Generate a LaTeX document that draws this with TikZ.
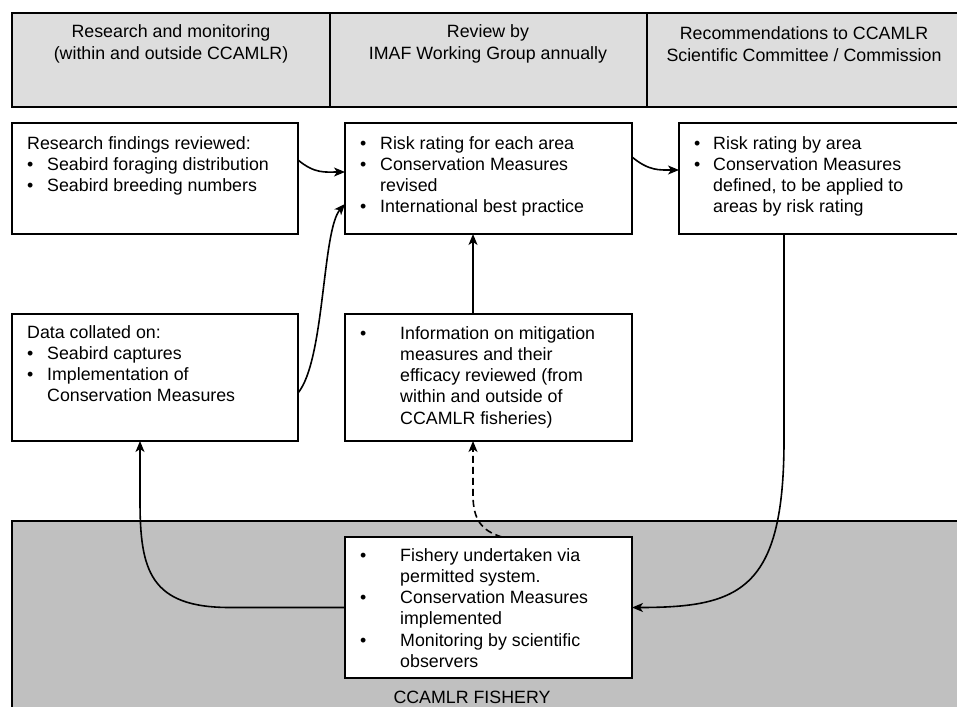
\documentclass[tikz,border=0pt]{standalone}
\usepackage{fontspec}
\setmainfont{Liberation Sans}
\usetikzlibrary{arrows.meta}
\definecolor{hdr}{RGB}{221,221,221}
\definecolor{fish}{RGB}{192,192,192}
\newcommand\bl{\textbullet}
\begin{document}
\begin{tikzpicture}[x=1pt,y=-1pt,
  font=\fontsize{17.8}{21.3}\selectfont,
  hdrbox/.style={draw, line width=1.8pt, fill=hdr, inner sep=0pt, outer sep=0pt, anchor=north west},
  fishbox/.style={draw, line width=1.8pt, fill=fish, inner sep=0pt, outer sep=0pt, anchor=north west},
  box/.style={draw, line width=1.8pt, fill=white, inner sep=0pt, outer sep=0pt, anchor=north west},
  txt/.style={anchor=base west, inner sep=0pt, align=left},
  hdrtxt/.style={inner sep=0pt, align=center},
  arr/.style={line width=1.6pt, -{Stealth[length=11pt,width=9pt,inset=3pt]}},
  dsh/.style={dash pattern=on 7pt off 4pt}]
\clip (0,0) rectangle (957,706);
\fill[white] (0,0) rectangle (957,706);
% header
\node[hdrbox, minimum width=318pt, minimum height=94pt] (h1) at (12,13) {};
\node[hdrbox, minimum width=317pt, minimum height=94pt] (h2) at (330,13) {};
\node[hdrbox, minimum width=343pt, minimum height=94pt] (h3) at (647,13) {};
\node[hdrtxt] (ht1) at (171,44) {Research and monitoring\\(within and outside CCAMLR)};
\node[hdrtxt] (ht2) at (488,44) {Review by\\IMAF Working Group annually};
\node[hdrtxt] (ht3) at (804,44) {Recommendations to CCAMLR\\Scientific Committee / Commission};
% fishery area
\node[fishbox, minimum width=990pt, minimum height=220pt] (fy) at (12,521) {};
\node[inner sep=0pt] (fl) at (472,697) {CCAMLR FISHERY};
% boxes
\node[box, minimum width=286pt, minimum height=111pt] (b1) at (12,123) {};
\node[box, minimum width=287pt, minimum height=111pt] (b2) at (345,123) {};
\node[box, minimum width=320pt, minimum height=111pt] (b3) at (679,123) {};
\node[box, minimum width=286pt, minimum height=127pt] (b4) at (12,314) {};
\node[box, minimum width=287pt, minimum height=127pt] (b5) at (345,314) {};
\node[box, minimum width=287pt, minimum height=141pt] (b6) at (345,537) {};
% texts
\node[txt] (x1) at (27,149) {\begin{tabular}[t]{@{}p{20pt}@{}l@{}}
\multicolumn{2}{@{}l@{}}{Research findings reviewed:}\\
\bl & Seabird foraging distribution\\
\bl & Seabird breeding numbers
\end{tabular}};
\node[txt] (x2) at (360,149) {\begin{tabular}[t]{@{}p{20pt}@{}l@{}}
\bl & Risk rating for each area\\
\bl & Conservation Measures\\
 & revised\\
\bl & International best practice
\end{tabular}};
\node[txt] (x3) at (694,149) {\begin{tabular}[t]{@{}p{19pt}@{}l@{}}
\bl & Risk rating by area\\
\bl & Conservation Measures\\
 & defined, to be applied to\\
 & areas by risk rating
\end{tabular}};
\node[txt] (x4) at (27,338) {\begin{tabular}[t]{@{}p{20pt}@{}l@{}}
\multicolumn{2}{@{}l@{}}{Data collated on:}\\
\bl & Seabird captures\\
\bl & Implementation of\\
 & Conservation Measures
\end{tabular}};
\node[txt] (x5) at (360,339) {\begin{tabular}[t]{@{}p{40pt}@{}l@{}}
\bl & Information on mitigation\\
 & measures and their\\
 & efficacy reviewed (from\\
 & within and outside of\\
 & CCAMLR fisheries)
\end{tabular}};
\node[txt] (x6) at (360,561) {\begin{tabular}[t]{@{}p{40pt}@{}l@{}}
\bl & Fishery undertaken via\\
 & permitted system.\\
\bl & Conservation Measures\\
 & implemented\\
\bl & Monitoring by scientific\\
 & observers
\end{tabular}};
% connectors
\draw[arr] ([yshift=18.5pt]b1.east) .. controls +(17,14) and +(-20,0) .. ([yshift=6.5pt]b2.west);
\draw[arr] ([yshift=-15.5pt]b4.east) .. controls +(27,-33) and +(-23,26) .. ([yshift=-25.5pt]b2.west);
\draw[arr] ([yshift=21.5pt]b2.east) .. controls +(17,14) and +(-20,0) .. ([yshift=8.5pt]b3.west);
\draw[arr] ([xshift=128pt]b5.north west) -- ([xshift=128pt]b2.south west);
\draw[arr] ([xshift=105pt]b3.south west) -- ++(0,206) .. controls +(0,150) and +(108,0) .. (b6.east);
\draw[arr] (b6.west) -- ++(-115,0) .. controls +(-80,0) and +(0,70) .. ++(-90,-107) -- ([xshift=128pt]b4.south west);
\draw[arr, dsh] ([xshift=157pt]b6.north west) .. controls +(-20,-6) and +(0,25) .. ++(-29,-42) -- ([xshift=128pt]b5.south west);
\end{tikzpicture}
\end{document}
